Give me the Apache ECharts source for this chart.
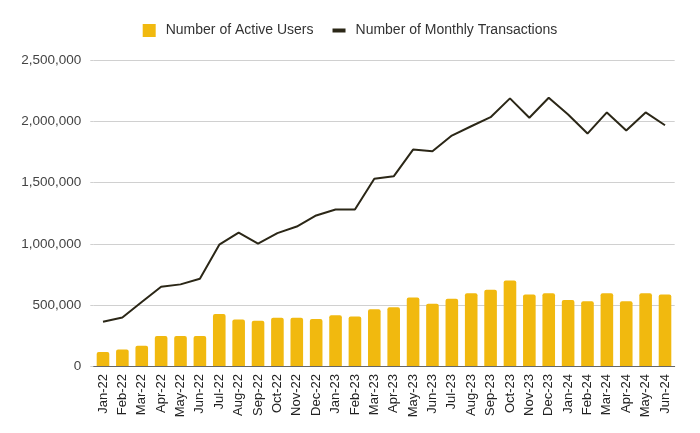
<!DOCTYPE html>
<html><head><meta charset="utf-8">
<script src="https://cdn.jsdelivr.net/npm/echarts@6/dist/echarts.min.js"></script>
<style>html,body{margin:0;padding:0;background:#fff}#c{width:700px;height:433px}</style>
</head><body><div id="c"></div>
<script>
const categories = ["Jan-22","Feb-22","Mar-22","Apr-22","May-22","Jun-22","Jul-22","Aug-22","Sep-22","Oct-22","Nov-22","Dec-22","Jan-23","Feb-23","Mar-23","Apr-23","May-23","Jun-23","Jul-23","Aug-23","Sep-23","Oct-23","Nov-23","Dec-23","Jan-24","Feb-24","Mar-24","Apr-24","May-24","Jun-24"];
const activeUsers = [115000,135000,165000,245000,245000,245000,425000,380000,370000,395000,395000,385000,415000,405000,465000,480000,560000,510000,550000,595000,625000,700000,585000,595000,540000,530000,595000,530000,595000,585000];
const monthlyTransactions = [362000,397000,523000,648000,668000,714000,993000,1092000,1002000,1087000,1141000,1232000,1281000,1281000,1533000,1552000,1771000,1757000,1886000,1962000,2036000,2190000,2031000,2195000,2058000,1902000,2075000,1927000,2075000,1970000];
const yTicks = {min:0, max:2500000, interval:500000};

const chart = echarts.init(document.getElementById('c'), null, {renderer:'canvas'});
const font = '"Liberation Sans", Arial, sans-serif';
chart.setOption({
  animation:false,
  textStyle:{fontFamily:font},
  legend:{
    top:23.5, left:'center', padding:0, itemGap:19, itemWidth:13, itemHeight:13,
    textStyle:{fontSize:14, color:'#333', fontFamily:font, padding:[0,0,0,5]},
    data:[
      {name:'Number of Active Users', icon:'rect'},
      {name:'Number of Monthly Transactions', icon:'path://M0,0h13v4h-13z'}
    ]
  },
  grid:{left:93.3, right:25.3, top:60.5, bottom:67, containLabel:false},
  xAxis:{
    type:'category', data:categories, boundaryGap:true,
    axisLine:{lineStyle:{color:'#666', width:1}},
    axisTick:{show:false},
    axisLabel:{rotate:90, fontSize:13, color:'#222', margin:8, interval:0, fontFamily:font}
  },
  yAxis:{
    type:'value', min:yTicks.min, max:yTicks.max, interval:yTicks.interval,
    axisLine:{show:false},
    axisTick:{show:true, length:3, lineStyle:{color:'#d0d0d0'}},
    splitLine:{lineStyle:{color:'#d0d0d0', width:1}},
    axisLabel:{fontSize:13.5, color:'#444', margin:12, fontFamily:font,
      formatter:v=>v.toLocaleString('en-US')}
  },
  series:[
    {name:'Number of Active Users', type:'bar', data:activeUsers, barWidth:'65%',
     itemStyle:{color:'#F1B90F', borderRadius:[2,2,0,0]}},
    {name:'Number of Monthly Transactions', type:'line', data:monthlyTransactions,
     showSymbol:false, symbol:'none', lineStyle:{color:'#2b2717', width:2}, itemStyle:{color:'#2b2717'}}
  ]
});
</script></body></html>
